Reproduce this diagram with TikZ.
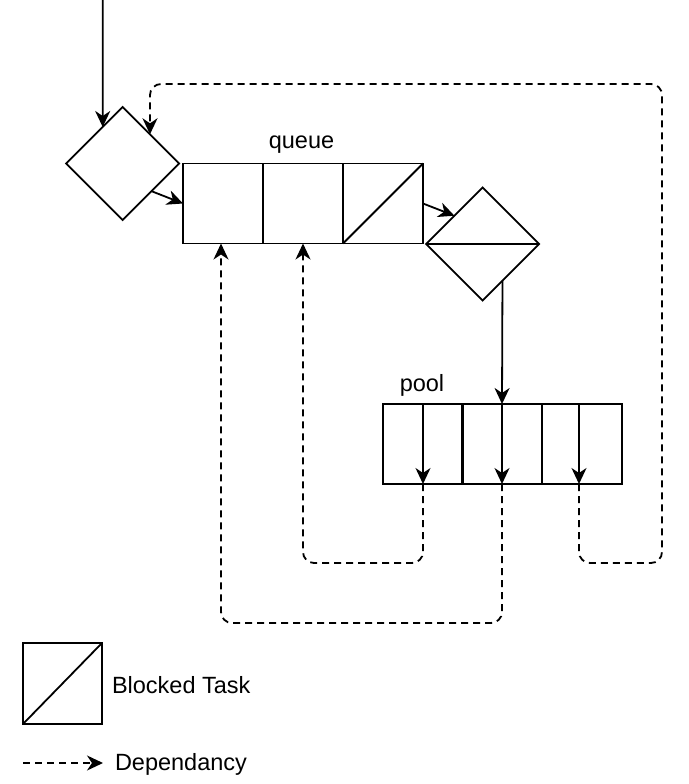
\documentclass[tikz,border=0pt]{standalone}
\usepackage{fontspec}
\setmainfont{Liberation Sans}
\usetikzlibrary{arrows.meta,shapes.geometric,calc}
\begin{document}
\begin{tikzpicture}[x=1pt,y=-1pt,
  every node/.style={inner sep=0pt,outer sep=0pt},
  ln/.style={line width=1.8pt,line join=miter},
  arr/.style={ln,-{Stealth[length=16pt,width=15pt,inset=5pt]}},
  dep/.style={arr,dash pattern=on 7pt off 5pt,rounded corners=11pt},
  dia/.style={ln,draw,diamond,minimum width=113pt,minimum height=113pt},
  cell/.style={ln,draw,rectangle,minimum width=80pt,minimum height=80pt},
  lbl/.style={font=\fontsize{23.5}{27}\selectfont}]
\useasboundingbox (0,0) rectangle (688,784);
% first decision
\node[dia] (d1) at (122.7,163.5) {};
\coordinate (start) at (102.7,0);
\draw[arr] (start) -- ($(d1.north)!0.354!(d1.west)$);
% queue
\node[cell] (q1) at (223,203.5) {};
\node[cell] (q2) at (303,203.5) {};
\node[cell] (q3) at (383,203.5) {};
\draw[ln] (q3.south west) -- (q3.north east);
\node[lbl] (ql) at (301.5,145) {queue};
\draw[arr] ($(d1.east)!0.49!(d1.south)$) -- (q1.west);
% second decision
\node[dia] (d2) at (482.7,244) {};
\draw[ln] (d2.west) -- (d2.east);
\draw[arr] (q3.east) -- ($(d2.west)!0.5!(d2.north)$);
% pool
\node[cell] (p1) at (423,444) {};
\node[cell] (p2) at (502,444) {};
\node[cell] (p3) at (582,444) {};
\node[lbl] (pl) at (422,385) {pool};
\draw[arr] ($(d2.east)!0.65!(d2.south)$) -- (p2.north);
\draw[arr] (p1.north) -- (p1.south);
\draw[arr] (p2.north) -- (p2.south);
\coordinate (p3t) at ($(p3.north)+(-3,0)$);
\coordinate (p3b) at ($(p3.south)+(-3,0)$);
\draw[arr] (p3t) -- (p3b);
% dependencies
\draw[dep] (p1.south) -- (p1.south |- 0,563) -| (q2.south);
\draw[dep] (p2.south) -- (p2.south |- 0,623) -| ($(q1.south)+(-2,0)$);
\draw[dep] (p3b) -- (p3b |- 0,563) -- (662,563) -- (662,84) -- (150,84) -- ($(d1.north)!0.483!(d1.east)$);
% legend
\node[ln,draw,rectangle,minimum width=79pt,minimum height=81pt] (lb) at (62.5,683.5) {};
\draw[ln] (lb.south west) -- (lb.north east);
\node[lbl,anchor=west] (lbt) at (112,685) {Blocked Task};
\coordinate (ls) at (23,763);
\coordinate (le) at (103,763);
\draw[dep] (ls) -- (le);
\node[lbl,anchor=west] (ldt) at (115,764) {Dependancy};
\end{tikzpicture}
\end{document}
